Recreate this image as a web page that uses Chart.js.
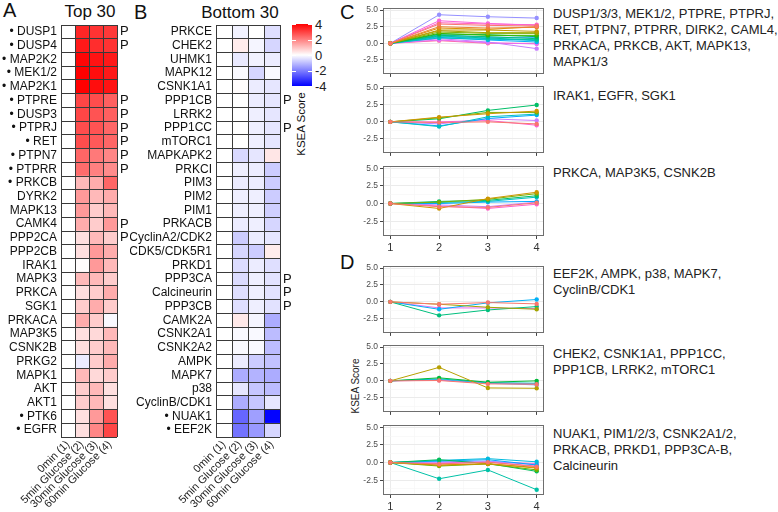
<!DOCTYPE html>
<html><head><meta charset="utf-8">
<script src="https://cdn.jsdelivr.net/npm/chart.js@4.4.1/dist/chart.umd.min.js"></script>
<style>
html,body{margin:0;padding:0;background:#fff;}
#wrap{position:relative;width:778px;height:512px;overflow:hidden;font-family:'Liberation Sans',Arial,Helvetica,sans-serif;color:#111;}
#wrap canvas{position:absolute;}
.t{position:absolute;white-space:nowrap;line-height:1;}
.leg{position:absolute;white-space:nowrap;font-size:13px;line-height:16px;color:#222;left:553px;}
</style></head><body><div id="wrap">
<div class="t" style="left:3px;top:0px;font-size:20px;">A</div>
<div class="t" style="left:40px;top:3px;width:100px;text-align:center;font-size:17px;">Top 30</div>
<div class="t" style="left:134px;top:2px;font-size:20px;">B</div>
<div class="t" style="left:180px;top:4px;width:120px;text-align:center;font-size:17px;">Bottom 30</div>
<div class="t" style="left:340px;top:2px;font-size:20px;">C</div>
<div class="t" style="left:340px;top:252px;font-size:20px;">D</div>
<div id="cbar" style="position:absolute;left:292px;top:24px;width:20px;height:62px;"></div>
<div class="t" style="left:272px;top:120px;width:60px;text-align:center;font-size:11.5px;transform:rotate(-90deg);">KSEA Score</div>
<div class="t" style="left:326px;top:381px;width:60px;text-align:center;font-size:10px;color:#222;transform:rotate(-90deg);">KSEA Score</div>
<div class="leg" style="top:6px;">DUSP1/3/3, MEK1/2, PTPRE, PTPRJ,<br>RET, PTPN7, PTPRR, DIRK2, CAML4,<br>PRKACA, PRKCB, AKT, MAPK13,<br>MAPK1/3</div>
<div class="leg" style="top:88px;">IRAK1, EGFR, SGK1</div>
<div class="leg" style="top:165px;">PRKCA, MAP3K5, CSNK2B</div>
<div class="leg" style="top:266px;">EEF2K, AMPK, p38, MAPK7,<br>CyclinB/CDK1</div>
<div class="leg" style="top:346px;">CHEK2, CSNK1A1, PPP1CC,<br>PPP1CB, LRRK2, mTORC1</div>
<div class="leg" style="top:426px;">NUAK1, PIM1/2/3, CSNK2A1/2,<br>PRKACB, PRKD1, PPP3CA-B,<br>Calcineurin</div>
</div>
<script>
// ---------------- DATA ----------------
const timeLabels = ['0min (1)', '5min Glucose (2)', '30min Glucose (3)', '60min Glucose (4)'];

const topKinases = ['• DUSP1','• DUSP4','• MAP2K2','• MEK1/2','• MAP2K1','• PTPRE','• DUSP3','• PTPRJ','• RET','• PTPN7','• PTPRR','• PRKCB','DYRK2','MAPK13','CAMK4','PPP2CA','PPP2CB','IRAK1','MAPK3','PRKCA','SGK1','PRKACA','MAP3K5','CSNK2B','PRKG2','MAPK1','AKT','AKT1','• PTK6','• EGFR'];
const topT1 = [0,0,0,0,0,0,0,0,0,0,0,0,0,0,0,0,0,0,0,0,0,0,0,0,0,0,0,0,0,0];
const topT2 = [3.4,3.6,3.9,4.0,4.0,2.9,2.9,2.8,2.8,2.4,2.3,1.1,1.6,1.6,1.3,0.5,0.5,0.05,1.1,0.5,0.8,1.3,0.5,0.5,-0.3,1.1,0.8,0.8,0.5,0.5];
const topT3 = [3.2,3.3,3.7,3.8,3.8,2.8,2.7,2.7,2.6,2.1,2.0,1.3,1.1,0.8,0.8,1.1,1.6,1.6,1.1,0.8,1.3,0.8,0.6,0.8,0.8,0.6,1.1,1.1,1.6,1.9];
const topT4 = [3.1,3.2,3.6,3.6,3.7,2.5,2.5,2.4,2.4,1.9,1.8,2.4,1.3,1.1,1.6,0.8,1.3,1.1,0.8,1.3,0.8,-0.1,1.1,1.1,1.3,0.8,0.5,0.5,2.7,2.9];
const topP = ['P','P','','','','P','P','P','P','P','P','','','','P','P','','','','','','','','','','','','','',''];

const bottomKinases = ['PRKCE','CHEK2','UHMK1','MAPK12','CSNK1A1','PPP1CB','LRRK2','PPP1CC','mTORC1','MAPKAPK2','PRKCI','PIM3','PIM2','PIM1','PRKACB','CyclinA2/CDK2','CDK5/CDK5R1','PRKD1','PPP3CA','Calcineurin','PPP3CB','CAMK2A','CSNK2A1','CSNK2A2','AMPK','MAPK7','p38','CyclinB/CDK1','• NUAK1','• EEF2K'];
const botT1 = [0,0,0,0,0,0,0,0,0,0,0,0,0,0,0,0,0,0,0,0,0,0,0,0,0,0,0,0,0,0];
const botT2 = [-0.2,0.3,-0.35,-0.1,0.05,0,0,0,0,-0.6,-0.25,-0.3,-0.25,-0.25,-0.3,-0.8,-0.65,-0.55,-0.55,-0.5,-0.5,0.35,-0.1,-0.1,-0.3,-1.3,-0.4,-1.3,-2.4,-2.2];
const botT3 = [0,-0.15,-0.2,-0.65,-0.3,-0.3,-0.25,-0.25,-0.25,-0.4,-0.3,-0.3,-0.25,-0.25,-0.25,-0.3,-0.8,-0.3,-0.25,-0.25,-0.25,-0.15,-0.1,-0.1,-0.8,-1.2,-0.9,-0.9,-1.5,-1.6];
const botT4 = [-0.5,-0.65,-0.3,-0.1,-0.4,-0.4,-0.4,-0.4,-0.4,0.4,-0.8,-0.8,-0.8,-0.75,-0.65,-0.4,0.3,-0.5,-0.45,-0.45,-0.45,-1.3,-1.05,-1.05,-0.95,-1.3,-1.05,-0.4,-3.95,-0.65];
const bottomP = ['','','','','','P','','P','','','','','','','','','','','P','P','P','','','','','','','','',''];

const colorbarBreaks = [4, 2, 0, -2, -4];

const timePoints = [1, 2, 3, 4];
const c1Series = [
  [0,2.9,2.7,2.6],[0,2.5,2.3,2.4],[0,2.3,2.1,2.5],[0,2.0,2.0,1.8],[0,1.9,1.6,1.6],
  [0,1.7,1.5,1.5],[0,1.5,1.2,1.2],[0,1.4,1.3,1.0],[0,1.2,1.0,0.7],[0,1.1,0.8,0.5],
  [0,0.8,0.6,0.6],[0,1.0,0.7,0.4],[0,0.9,0.5,0.2],[0,1.3,0.9,0.9],[0,4.3,4.0,3.8],
  [0,0.7,0.2,-0.8],[0,0.5,0.1,-0.1],[0,3.4,3.0,2.7],[0,3.1,2.9,2.8],[0,0.4,0.0,0.0]
];
const c2Series = [
  [0,-0.1,0.0,-0.3],[0,0.7,1.2,1.6],[0,0.6,1.4,1.4],[0,0.45,1.7,2.5],
  [0,-0.7,0.75,1.15],[0,-0.6,0.5,1.0],[0,-0.3,0.45,0.2],[0,0.0,0.2,-0.5]
];
const c3Series = [
  [0,-0.45,-0.55,0.1],[0,-0.7,0.7,1.6],[0,0.2,0.6,1.4],[0,0.3,0.45,1.1],
  [0,0.15,0.3,0.9],[0,0.0,0.2,0.3],[0,-0.2,-0.45,0.2],[0,-0.35,-0.7,-0.1]
];
const d1Series = [
  [0,-0.35,-0.1,-0.3],[0,-0.35,-0.8,-1.1],[0,-2.0,-1.2,-0.7],[0,-1.1,-0.15,0.35],[0,-0.9,-0.9,-1.0]
];
const d2Series = [
  [0,0.05,-0.45,-0.5],[0,2.0,-1.05,-1.1],[0,0.45,-0.2,0.0],[0,0.3,-0.25,-0.35],[0,0.2,-0.35,-0.6],[0,0.1,-0.3,-0.45]
];
const d3Series = [
  [0,-0.2,0.05,-0.6],[0,-0.35,-0.15,-0.8],[0,-0.4,-0.2,-0.7],[0,-0.5,-0.2,-1.05],[0,0.4,-0.15,-1.25],
  [0,-2.3,-1.05,-3.85],[0,0.3,0.55,0.1],[0,0.2,0.4,-0.35],[0,0.1,0.2,-0.3],[0,-0.05,0.1,-0.15],[0,-0.15,0.05,-0.5]
];
const yMajor = [-2.5, 0, 2.5, 5];
const yMinor = [-3.75, -1.25, 1.25, 3.75];

// ---------------- STYLE HELPERS ----------------
Chart.defaults.font.family = "'Liberation Sans', Arial, Helvetica, sans-serif";
Chart.defaults.color = '#222';

function heatColor(v) {
  const a = Math.min(1, Math.abs(v) / 4);
  const k = Math.round(255 * (1 - a));
  return v >= 0 ? `rgb(255,${k},${k})` : `rgb(${k},${k},255)`;
}
function toSrgb(c) {
  c = c <= 0.0031308 ? 12.92 * c : 1.055 * Math.pow(c, 1 / 2.4) - 0.055;
  return Math.round(Math.max(0, Math.min(1, c)) * 255);
}
function hueColor(i, n) {
  const h = (15 + 360 * i / n) * Math.PI / 180, L = 65, C = 100;
  const Xn = 0.95047, Yn = 1, Zn = 1.08883;
  const den = Xn + 15 * Yn + 3 * Zn, un = 4 * Xn / den, vn = 9 * Yn / den;
  const Y = Yn * Math.pow((L + 16) / 116, 3);
  const up = C * Math.cos(h) / (13 * L) + un, vp = C * Math.sin(h) / (13 * L) + vn;
  const X = Y * 9 * up / (4 * vp), Z = Y * (12 - 3 * up - 20 * vp) / (4 * vp);
  const r = 3.2406 * X - 1.5372 * Y - 0.4986 * Z;
  const g = -0.9689 * X + 1.8758 * Y + 0.0415 * Z;
  const b = 0.0557 * X - 0.2040 * Y + 1.0570 * Z;
  return `rgb(${toSrgb(r)},${toSrgb(g)},${toSrgb(b)})`;
}

const wrap = document.getElementById('wrap');
function makeCanvas(left, top, w, h) {
  const c = document.createElement('canvas');
  c.width = w; c.height = h;
  c.style.left = left + 'px'; c.style.top = top + 'px';
  c.style.width = w + 'px'; c.style.height = h + 'px';
  wrap.appendChild(c);
  return c;
}

// colorbar (legend)
const cb = document.getElementById('cbar');
cb.style.background = 'linear-gradient(' + colorbarBreaks.map(heatColor).join(',') + ')';
colorbarBreaks.forEach(v => {
  const y = 24 + 62 * (4 - v) / 8;
  const lab = document.createElement('div');
  lab.className = 't';
  lab.style.cssText = `left:315px;top:${y - 6.5}px;font-size:13px;color:#222;`;
  lab.textContent = String(v);
  wrap.appendChild(lab);
  ['292px', '308px'].forEach(x => {
    const tk = document.createElement('div');
    tk.style.cssText = `position:absolute;left:${x};top:${Math.round(y)}px;width:4px;height:1px;background:#fff;`;
    wrap.appendChild(tk);
  });
});

// ---------------- HEATMAPS ----------------
function heatChart(canvas, names, cols, pMarks, leftW, rightW) {
  const datasets = cols.map((vals, c) => ({
    data: names.map(() => [c, c + 1]),
    backgroundColor: vals.map(heatColor),
    borderWidth: 0, grouped: false, barPercentage: 1, categoryPercentage: 1,
    xAxisID: 'x', yAxisID: 'y'
  }));
  return new Chart(canvas, {
    type: 'bar',
    data: { labels: names, datasets },
    options: {
      indexAxis: 'y', animation: false, responsive: false, events: [],
      layout: { padding: { top: 25, bottom: 0, left: 0, right: 0 } },
      plugins: { legend: { display: false }, tooltip: { enabled: false } },
      scales: {
        x: {
          type: 'linear', position: 'top', min: 0, max: 4,
          ticks: { display: false, stepSize: 1 },
          grid: { color: '#3a3a3a', lineWidth: 1, drawTicks: false, z: 1 },
          border: { display: false },
          afterFit(s) { s.height = 0; }
        },
        x2: {
          type: 'linear', position: 'bottom', min: 0, max: 4,
          afterBuildTicks(s) { s.ticks = [0.5, 1.5, 2.5, 3.5].map(v => ({ value: v })); },
          ticks: { autoSkip: false, minRotation: 45, maxRotation: 45, padding: 1, color: '#222', font: { size: 11 },
                   callback: (v, i) => timeLabels[i] },
          grid: { display: false, drawTicks: false }, border: { display: false },
          afterFit(s) { s.height = 75; }
        },
        y: {
          type: 'category', position: 'left', offset: true,
          ticks: { autoSkip: false, padding: 4, color: '#111', font: { size: 12 } },
          grid: { offset: true, color: '#3a3a3a', lineWidth: 1, drawTicks: false, z: 1 },
          border: { display: true, color: '#3a3a3a', z: 1 },
          afterFit(s) { s.width = leftW; }
        },
        y2: {
          type: 'category', position: 'right', offset: true, labels: pMarks,
          ticks: { autoSkip: false, padding: 3, color: '#111', font: { size: 13 } },
          grid: { display: false, drawTicks: false }, border: { display: false },
          afterFit(s) { s.width = rightW; }
        }
      }
    }
  });
}
heatChart(makeCanvas(0, 0, 140, 512), topKinases, [topT1, topT2, topT3, topT4], topP, 61, 23);
heatChart(makeCanvas(130, 0, 172, 512), bottomKinases, [botT1, botT2, botT3, botT4], bottomP, 86, 22);

// ---------------- LINE PANELS ----------------
const panelBorder = {
  id: 'panelBorder',
  afterDraw(chart) {
    const { ctx, chartArea: a } = chart;
    ctx.save();
    ctx.strokeStyle = '#6e6e6e'; ctx.lineWidth = 1;
    ctx.strokeRect(Math.round(a.left) + 0.5, Math.round(a.top) + 0.5, Math.round(a.right - a.left) - 1, Math.round(a.bottom - a.top) - 1);
    ctx.restore();
  }
};
const isInt = v => Math.abs(v - Math.round(v)) < 1e-6;
const isYMajor = v => yMajor.some(m => Math.abs(m - v) < 1e-6);

function lineChart(series, plotTop, plotBottom, showX) {
  const axisH = showX ? 18 : 4;
  const padTop = 4;
  const canvas = makeCanvas(340, plotTop - padTop, 208, plotBottom - plotTop + padTop + axisH);
  const n = series.length;
  const datasets = series.map((vals, i) => {
    const col = hueColor(i, n);
    return {
      data: timePoints.map((x, j) => ({ x, y: vals[j] })),
      borderColor: col, backgroundColor: col, borderWidth: 1,
      pointRadius: 2.2, pointBorderWidth: 0, pointHoverRadius: 2.2, tension: 0
    };
  });
  return new Chart(canvas, {
    type: 'line',
    data: { datasets },
    options: {
      animation: false, responsive: false, events: [],
      layout: { padding: { top: padTop, right: 4, left: 0, bottom: 0 } },
      plugins: { legend: { display: false }, tooltip: { enabled: false } },
      scales: {
        x: {
          type: 'linear', min: 0.85, max: 4.15,
          afterBuildTicks(s) { s.ticks = [1, 1.5, 2, 2.5, 3, 3.5, 4].map(v => ({ value: v })); },
          ticks: { display: showX, autoSkip: false, maxRotation: 0, padding: 2, color: '#333', font: { size: 11 },
                   callback: v => isInt(v) ? String(v) : '' },
          grid: {
            color: c => (c.tick && isInt(c.tick.value)) ? '#ebebeb' : '#f5f5f5',
            lineWidth: c => (c.tick && isInt(c.tick.value)) ? 1 : 0.6,
            tickColor: c => (c.tick && isInt(c.tick.value)) ? '#444' : 'rgba(0,0,0,0)',
            tickLength: 3
          },
          border: { display: false },
          afterFit(s) { s.height = axisH; }
        },
        y: {
          type: 'linear', min: -4.6, max: 5.3,
          afterBuildTicks(s) { s.ticks = yMinor.concat(yMajor).sort((a, b) => a - b).map(v => ({ value: v })); },
          ticks: { autoSkip: false, padding: 2, color: '#4d4d4d', font: { size: 8.5 },
                   callback: v => isYMajor(v) ? v.toFixed(1) : '' },
          grid: {
            color: c => (c.tick && isYMajor(c.tick.value)) ? '#ebebeb' : '#f5f5f5',
            lineWidth: c => (c.tick && isYMajor(c.tick.value)) ? 1 : 0.6,
            tickColor: c => (c.tick && isYMajor(c.tick.value)) ? '#444' : 'rgba(0,0,0,0)',
            tickLength: 3
          },
          border: { display: false },
          afterFit(s) { s.width = 43; }
        }
      }
    },
    plugins: [panelBorder]
  });
}
lineChart(c1Series, 5, 77, false);
lineChart(c2Series, 83, 156, false);
lineChart(c3Series, 163, 236, true);
lineChart(d1Series, 263, 336, false);
lineChart(d2Series, 342, 415, false);
lineChart(d3Series, 422, 495, true);
</script>
</body></html>
